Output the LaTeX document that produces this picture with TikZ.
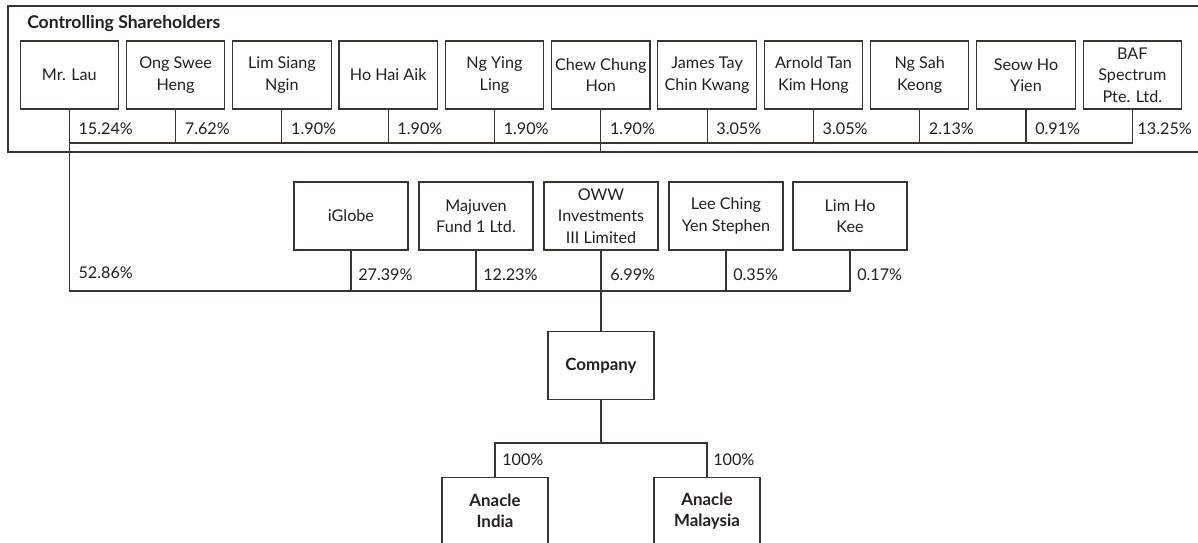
\documentclass[tikz,border=0pt]{standalone}
\usepackage{fontspec}
\setmainfont{Lato}
\usetikzlibrary{calc}
\definecolor{boxline}{HTML}{3A3330}
\definecolor{boxtext}{HTML}{231F20}

\tikzset{
  holder/.style={draw=boxline, line width=0.8pt, align=center, inner sep=1pt,
    text=boxtext, font=\fontsize{11.5}{15.3}\selectfont},
  toprow/.style={holder, minimum width=2.46cm, minimum height=1.7cm},
  midrow/.style={holder, minimum width=2.85cm, minimum height=1.7cm},
  entity/.style={holder, minimum width=2.65cm, minimum height=1.69cm,
    font=\fontsize{12}{15.3}\selectfont\bfseries},
  pct/.style={anchor=west, inner sep=0pt, text=boxtext,
    font=\fontsize{11.5}{14}\selectfont},
  link/.style={draw=boxline, line width=0.8pt}
}

\begin{document}
\begin{tikzpicture}[x=0.025cm, y=-0.025cm]
          \useasboundingbox (0,0) rectangle (1198,543);
          \clip (0,0) rectangle (1198,543);

          \draw[link] (8,152) rectangle (1215,6);
          \node[anchor=west, inner sep=0pt, text=boxtext, font=\fontsize{12.5}{14}\selectfont\bfseries] (ctitle) at (27,24) {Controlling Shareholders};

          \coordinate (topbus) at (0,143);
          \coordinate (framebot) at (0,152);
          \coordinate (midbus) at (0,291);
          \coordinate (lowbus) at (601,443);

          \node[toprow] (lau) at (69.3,75) {Mr. Lau};
          \node[toprow] (ong) at (175.6,75) {Ong Swee\\Heng};
          \node[toprow] (limsiang) at (281.9,75) {Lim Siang\\Ngin};
          \node[toprow] (hohai) at (388.2,75) {Ho Hai Aik};
          \node[toprow] (ngying) at (494.5,75) {Ng Ying\\Ling};
          \node[toprow] (chew) at (600.8,75) {Chew Chung\\Hon};
          \node[toprow] (tay) at (707.1,75) {James Tay\\Chin Kwang};
          \node[toprow] (arnold) at (813.4,75) {Arnold Tan\\Kim Hong};
          \node[toprow] (ngsah) at (919.7,75) {Ng Sah\\Keong};
          \node[toprow] (seow) at (1026,75) {Seow Ho\\Yien};
          \node[toprow] (baf) at (1132.3,75) {BAF\\Spectrum\\Pte. Ltd.};

          \node[midrow] (iglobe) at (351,216) {iGlobe};
          \node[midrow] (majuven) at (476,216) {Majuven\\Fund 1 Ltd.};
          \node[midrow] (oww) at (601,216) {OWW\\Investments\\III Limited};
          \node[midrow] (leeching) at (726,216) {Lee Ching\\Yen Stephen};
          \node[midrow] (limho) at (850,216) {Lim Ho\\Kee};

          \node[entity] (company) at (601,365.5) {Company};
          \node[entity] (india) at (495,511) {Anacle\\India};
          \node[entity] (malaysia) at (707,511) {Anacle\\Malaysia};

          \draw[link] (lau.south) -- (lau.south |- midbus) -| (limho.south);
          \draw[link] (lau.south |- topbus) -| (baf.south);
          \draw[link] (ong.south) -- (ong.south |- topbus);
          \draw[link] (limsiang.south) -- (limsiang.south |- topbus);
          \draw[link] (hohai.south) -- (hohai.south |- topbus);
          \draw[link] (ngying.south) -- (ngying.south |- topbus);
          \draw[link] (chew.south) -- (chew.south |- framebot);
          \draw[link] (tay.south) -- (tay.south |- topbus);
          \draw[link] (arnold.south) -- (arnold.south |- topbus);
          \draw[link] (ngsah.south) -- (ngsah.south |- topbus);
          \draw[link] (seow.south) -- (seow.south |- topbus);

          \draw[link] (iglobe.south) -- (iglobe.south |- midbus);
          \draw[link] (majuven.south) -- (majuven.south |- midbus);
          \draw[link] (oww.south) -- (company.north);
          \draw[link] (leeching.south) -- (leeching.south |- midbus);

          \draw[link] (company.south) -- (lowbus);
          \draw[link] (india.north) |- (lowbus) -| (malaysia.north);

          \node[pct] (plau) at ($(lau.south)+(9,19)$) {15.24\%};
          \node[pct] (pong) at ($(ong.south)+(9,19)$) {7.62\%};
          \node[pct] (plimsiang) at ($(limsiang.south)+(9,19)$) {1.90\%};
          \node[pct] (phohai) at ($(hohai.south)+(9,19)$) {1.90\%};
          \node[pct] (pngying) at ($(ngying.south)+(9,19)$) {1.90\%};
          \node[pct] (pchew) at ($(chew.south)+(9,19)$) {1.90\%};
          \node[pct] (ptay) at ($(tay.south)+(9,19)$) {3.05\%};
          \node[pct] (parnold) at ($(arnold.south)+(9,19)$) {3.05\%};
          \node[pct] (pngsah) at ($(ngsah.south)+(9,19)$) {2.13\%};
          \node[pct] (pseow) at ($(seow.south)+(9,19)$) {0.91\%};
          \node[pct] (pbaf) at ($(baf.south)+(5,19)$) {13.25\%};

          \node[pct] (plaumid) at ($(lau.south |- iglobe.south)+(9,22)$) {52.86\%};
          \node[pct] (piglobe) at ($(iglobe.south)+(7,24)$) {27.39\%};
          \node[pct] (pmajuven) at ($(majuven.south)+(7,24)$) {12.23\%};
          \node[pct] (poww) at ($(oww.south)+(9,24)$) {6.99\%};
          \node[pct] (pleeching) at ($(leeching.south)+(7,24)$) {0.35\%};
          \node[pct] (plimho) at ($(limho.south)+(7,24)$) {0.17\%};

          \node[pct] (pindia) at ($(india.north)+(7,-17)$) {100\%};
          \node[pct] (pmalaysia) at ($(malaysia.north)+(6,-17)$) {100\%};
        \end{tikzpicture}
\end{document}
